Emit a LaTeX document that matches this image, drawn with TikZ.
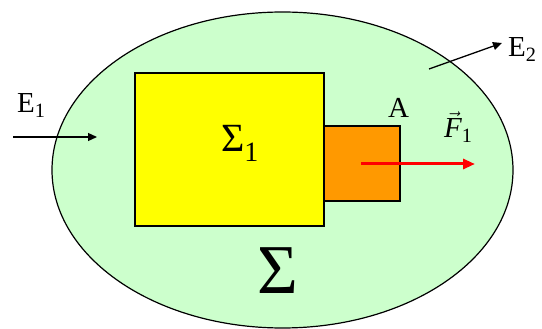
\documentclass[tikz,border=0pt]{standalone}
\usepackage{fontspec}
\setmainfont{Liberation Serif}
\newfontfamily\timesfont{Liberation Serif}
\usepackage{tikz}
\usetikzlibrary{positioning, arrows.meta, shapes.geometric}
\definecolor{fluid}{HTML}{CCFFCC}
\definecolor{solid}{HTML}{FFFF00}
\definecolor{part}{HTML}{FF9900}
\definecolor{force}{HTML}{FF0000}
\tikzset{
  system/.style = {ellipse, draw=black, line width=1.2pt, fill=fluid, inner sep=0pt,
                   minimum width=461pt, minimum height=316pt},
  body/.style   = {rectangle, draw=black, line width=1.4pt, fill=solid,
                   inner sep=0pt, minimum width=189pt, minimum height=153pt},
  piece/.style  = {rectangle, draw=black, line width=1.4pt, fill=part,
                   inner sep=0pt, minimum width=76pt, minimum height=75pt},
  lbl/.style    = {anchor=base west, inner sep=0pt,
                   font=\timesfont\fontsize{29}{34}\selectfont},
  flux/.style   = {-{Triangle[length=9pt,width=8pt]}, line width=1.3pt, draw=black},
  fvec/.style   = {-{Triangle[length=12pt,width=10pt]}, line width=3pt, draw=force},
}

\begin{document}
\begin{tikzpicture}[x=1pt, y=-1pt]
  \useasboundingbox (0,0) rectangle (542,329);

  \node[system] (sys) at (282.5,170) {};
  \node[body] (sig1) at (229.5,149.5) {};
  \node[piece] (blkA) at (362,163.5) {};

  % labels
  \node[lbl, font=\timesfont\fontsize{40}{46}\selectfont] (tsig1) at (221,152) {Σ\textsubscript{1}};
  \node[lbl, font=\timesfont\fontsize{70}{78}\selectfont] (tsig) at (257,294) {Σ};
  \node[lbl] (tA) at (388,118) {A};
  \node[lbl] (tE1) at (17,113) {E\textsubscript{1}};
  \node[lbl] (tE2) at (508,57) {E\textsubscript{2}};
  \node[lbl] (tF1) at (444,138) {$\vec{\mbox{\itshape F}}$\textsubscript{1}};

  % energy and force arrows
  \coordinate (inS) at (13,137);
  \coordinate (inE) at (97,137);
  \coordinate (outS) at (429,69);
  \coordinate (outE) at (502,43);
  \coordinate (fS) at (361,164);
  \coordinate (fE) at (475,164);
  \draw[flux] (inS) -- (inE);
  \draw[flux] (outS) -- (outE);
  \draw[fvec] (fS) -- (fE);

\end{tikzpicture}
\end{document}
